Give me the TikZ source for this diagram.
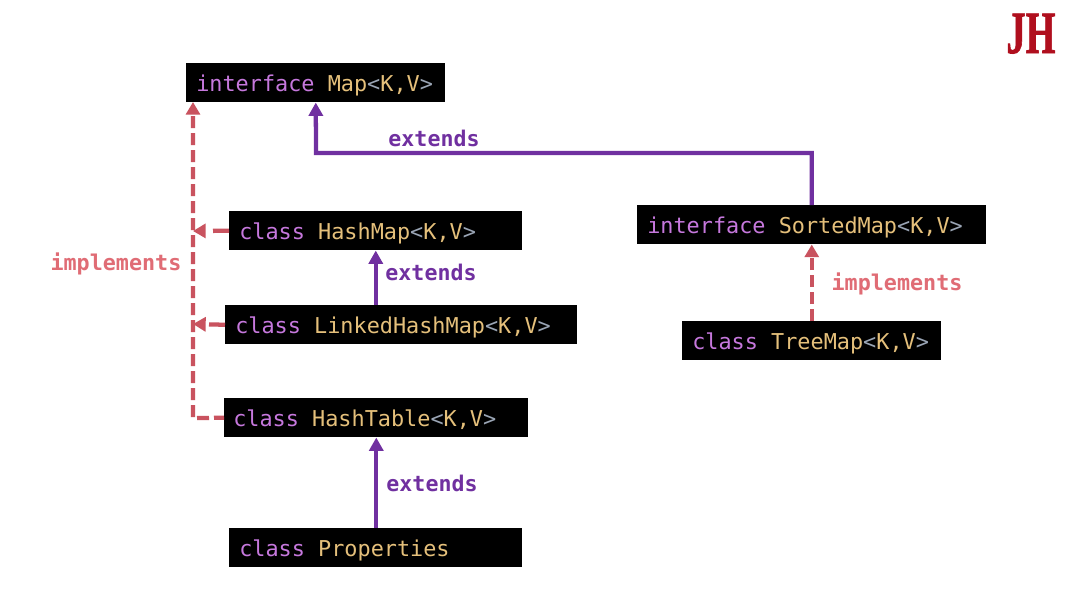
\documentclass[tikz,border=0pt]{standalone}
\usepackage{fontspec}
\usetikzlibrary{arrows.meta}
\setmonofont{DejaVu Sans Mono}
\newfontfamily\logofont{Liberation Serif}[BoldFeatures={FakeBold=1.5}]
\definecolor{kw}{HTML}{C678DD}
\definecolor{ty}{HTML}{E5C07B}
\definecolor{pn}{HTML}{9AA5B5}
\definecolor{ext}{HTML}{7030A0}
\definecolor{impl}{HTML}{C9535F}
\definecolor{impltxt}{HTML}{E06C75}
\definecolor{logored}{HTML}{B00F1E}
\newcommand{\cgap}{\hspace*{0.602em}}
\newcommand{\code}[2]{\textcolor{kw}{#1}\cgap\textcolor{ty}{#2}\textcolor{pn}{<}\textcolor{ty}{K,V}\textcolor{pn}{>}}
\tikzset{
  x=0.75pt,y=-0.75pt,
  jbox/.style={fill=black,anchor=north west,inner xsep=7.5pt,inner ysep=0pt,
    text height=21pt,text depth=8.25pt,align=left,
    font=\ttfamily\fontsize{16.38pt}{20pt}\selectfont},
  extline/.style={ext,line width=3.2pt,-{Triangle[length=10pt,width=10.5pt]}},
  implline/.style={impl,line width=3.2pt,dash pattern=on 9pt off 3.75pt,-{Triangle[length=9.5pt,width=10.5pt]}},
  implshort/.style={implline,dash pattern=on 12pt off 12pt},
  extlabel/.style={text=ext,anchor=base,inner sep=0pt,font=\ttfamily\bfseries\fontsize{16.2pt}{20pt}\selectfont},
  impllabel/.style={text=impltxt,anchor=base,inner sep=0pt,font=\ttfamily\bfseries\fontsize{16.3pt}{20pt}\selectfont},
}
\begin{document}
\begin{tikzpicture}
\useasboundingbox[fill=white] (0,0) rectangle (1069,607);
\node[jbox,text width=179.25pt] (map) at (186,63) {\code{interface}{Map}};
\node[jbox,text width=204.75pt] (hashmap) at (229,211) {\code{class}{HashMap}};
\node[jbox,text width=249pt] (linked) at (225,305) {\code{class}{LinkedHashMap}};
\node[jbox,text width=214.5pt,inner xsep=6.75pt] (hashtable) at (224,398) {\code{class}{HashTable}};
\node[jbox,text width=204.75pt] (props) at (229,528) {\textcolor{kw}{class}\cgap\textcolor{ty}{Properties}};
\node[jbox,text width=246.75pt] (sorted) at (637,205) {\code{interface}{SortedMap}};
\node[jbox,text width=179.25pt] (tree) at (682,321) {\code{class}{TreeMap}};
\coordinate (bendA) at (316,153);
\coordinate (bendB) at (193,418);
\coordinate (spineA) at (193,231);
\coordinate (spineB) at (193,324);
\coordinate (mapL) at (193,102);
\draw[extline] (sorted.north) |- (bendA) -- (map.south);
\draw[extline] (hashmap.south |- linked.north) -- (hashmap.south);
\draw[extline] (hashtable.south |- props.north) -- (hashtable.south);
\draw[implline] (tree.north) -- (tree.north |- sorted.south);
\draw[implline,dash phase=1.5pt] (hashtable.west) -- (bendB) -- (mapL);
\draw[implshort] (hashmap.west) -- (spineA);
\draw[implshort] (linked.west) -- (spineB);
\node[extlabel] (l1) at (434,146) {extends};
\node[extlabel] (l2) at (431,280) {extends};
\node[extlabel] (l3) at (432,491) {extends};
\node[impllabel] (l4) at (116,270) {implements};
\node[impllabel] (l5) at (897,290) {implements};
\node[text=logored,inner sep=0pt,anchor=base,xscale=.64,font=\logofont\bfseries\fontsize{45pt}{50pt}\selectfont] (logo) at (1031,53) {JH};
\end{tikzpicture}
\end{document}
